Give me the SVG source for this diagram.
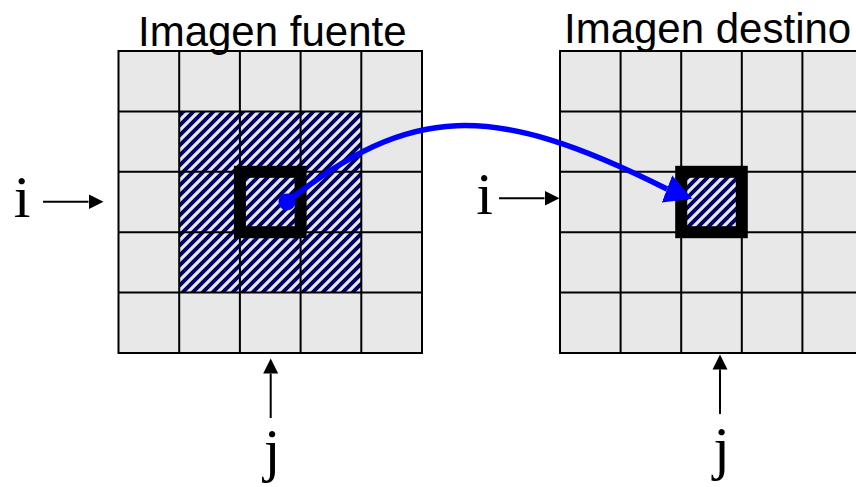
<svg xmlns="http://www.w3.org/2000/svg" width="856" height="487" viewBox="0 0 856 487">
<style>
.title{font-family:"Liberation Sans",Arial,sans-serif;font-size:42px;fill:#000}
.lbl{font-family:"Liberation Serif","Times New Roman",serif;font-size:60px;fill:#000;text-anchor:middle}
.bg{fill:#e8e8e8}
.grid{stroke:#000;stroke-width:2;fill:none}
.thick{stroke:#000;stroke-width:12;fill:none}
.axis{stroke:#000;stroke-width:2;fill:none;marker-end:url(#ah)}
.blue{stroke:#0000ff;stroke-width:5.5;fill:none;marker-end:url(#bh)}
</style>
<defs>
<pattern id="hatch" patternUnits="userSpaceOnUse" width="10" height="10">
<rect width="10" height="10" fill="#000066"/>
<path d="M-2,2 L2,-2 M0,10 L10,0 M8,12 L12,8" stroke="#e8e8e8" stroke-width="3.2"/>
</pattern>
<marker id="ah" markerUnits="userSpaceOnUse" viewBox="0 -8 16 16" refX="0" refY="0" markerWidth="16" markerHeight="16" orient="auto">
<path d="M0,-7.5 L15,0 L0,7.5 z" fill="#000"/>
</marker>
<marker id="bh" markerUnits="userSpaceOnUse" viewBox="0 -15 28 30" refX="0" refY="0" markerWidth="28" markerHeight="30" orient="21">
<path d="M0,-14.5 L27,0 L0,14.5 z" fill="#0000ff"/>
</marker>
</defs>
<rect width="856" height="487" fill="#fff"/>
<g id="source-image">
<rect class="bg" x="118.5" y="51" width="303.5" height="302"/>
<rect x="179.2" y="111.4" width="182.1" height="181.2" fill="url(#hatch)"/>
<path class="grid" d="M118.5,51 H422 V353 H118.5 Z M179.2,51 V353 M239.9,51 V353 M300.6,51 V353 M361.3,51 V353 M118.5,111.4 H422 M118.5,171.8 H422 M118.5,232.2 H422 M118.5,292.6 H422"/>
<rect class="thick" x="239.9" y="171.8" width="60.7" height="60.4"/>
<text class="title" x="138" y="46">Imagen fuente</text>
</g>
<g id="target-image">
<rect class="bg" x="560" y="51" width="303" height="302"/>
<rect x="681.2" y="171.8" width="60.6" height="60.4" fill="url(#hatch)"/>
<path class="grid" d="M560,51 H863 V353 H560 Z M620.6,51 V353 M681.2,51 V353 M741.8,51 V353 M802.4,51 V353 M560,111.4 H863 M560,171.8 H863 M560,232.2 H863 M560,292.6 H863"/>
<rect class="thick" x="681.2" y="171.8" width="60.6" height="60.4"/>
<text class="title" x="564" y="43">Imagen destino</text>
</g>
<g id="label-i-source"><text class="lbl" x="22" y="217">i</text></g>
<g id="label-j-source"><text class="lbl" x="272" y="470">j</text></g>
<g id="label-i-target"><text class="lbl" x="484.5" y="213.5">i</text></g>
<g id="label-j-target"><text class="lbl" x="721.5" y="468">j</text></g>
<g id="connectors">
<line class="axis" x1="43" y1="201.7" x2="88.5" y2="201.7"/>
<line class="axis" x1="499" y1="198.3" x2="544.5" y2="198.3"/>
<line class="axis" x1="270.7" y1="418" x2="270.7" y2="373.5"/>
<line class="axis" x1="720" y1="414" x2="720" y2="369.5"/>
<path class="blue" d="M287,202 C410,105 490,100 667,189"/>
<circle cx="287" cy="202" r="8.5" fill="#0000ff"/>
</g>
</svg>
